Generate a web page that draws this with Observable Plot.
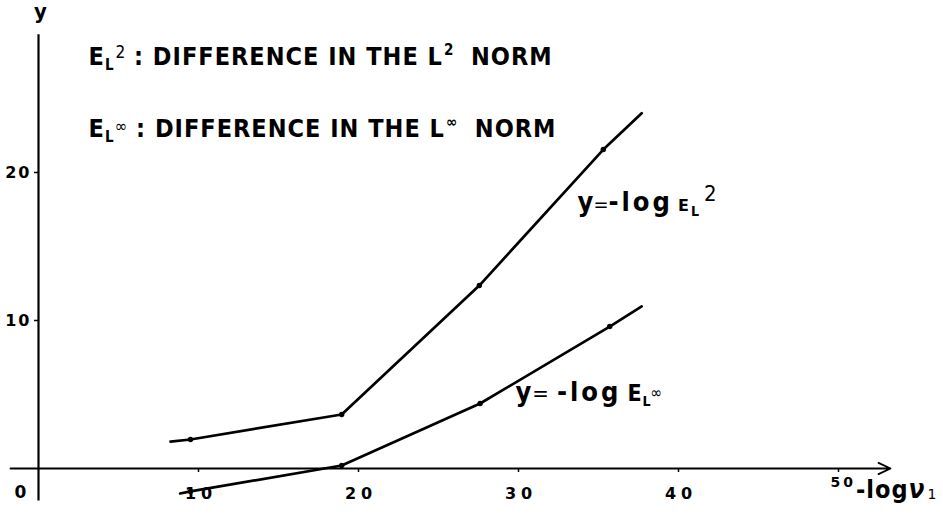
<!DOCTYPE html>
<html><head><meta charset="utf-8">
<script src="https://cdn.jsdelivr.net/npm/d3@7"></script>
<script src="https://cdn.jsdelivr.net/npm/@observablehq/plot@0.6"></script>
<style>
html,body{margin:0;padding:0;background:#fff;}
#chart svg{display:block;}
</style>
</head><body><div id="chart"></div>
<script>
// ---- data ----
const l2PointX = [9.5, 18.95, 27.55, 35.3];
const l2PointY = [1.96, 3.65, 12.36, 21.55];
const l2LineX  = [8.25, 9.5, 18.95, 27.55, 35.3, 37.7];
const l2LineY  = [1.82, 1.96, 3.65, 12.36, 21.55, 24.0];

const linfPointX = [9.5, 18.95, 27.6, 35.7];
const linfPointY = [-1.55, 0.2, 4.39, 9.59];
const linfLineX  = [8.85, 9.5, 18.95, 27.6, 35.7, 37.7];
const linfLineY  = [-1.69, -1.55, 0.2, 4.39, 9.59, 10.95];

const xTicks = [10, 20, 30, 40, 50];
const yTicks = [10, 20];
const xAxisExtent = [-1.75, 53.25];
const yAxisExtent = [-2.2, 29.3];

const zip = (xs, ys) => xs.map((x, i) => ({x, y: ys[i]}));
const FONT = "'DejaVu Sans Condensed','Liberation Sans Narrow','DejaVu Sans',sans-serif";
const WIDE = "'DejaVu Sans',sans-serif";

const plot = Plot.plot({
  width: 943, height: 514,
  marginLeft: 38, marginRight: 105, marginTop: 0, marginBottom: 46,
  x: {domain: [0, 50]},
  y: {domain: [0, 31.62]},
  style: {background: "white", color: "black", fontFamily: FONT},
  marks: [
    Plot.arrow([{x1: xAxisExtent[0], x2: xAxisExtent[1], y: 0}],
      {x1: "x1", x2: "x2", y1: "y", y2: "y", stroke: "black", strokeWidth: 1.8, headLength: 11, headAngle: 50}),
    Plot.ruleX([{x: 0, y1: yAxisExtent[0], y2: yAxisExtent[1]}],
      {x: "x", y1: "y1", y2: "y2", stroke: "black", strokeWidth: 2.2}),
    Plot.axisX(xTicks, {tickSize: 4, tickPadding: 15, label: null, fontWeight: "bold",
      fontFamily: WIDE, tickFormat: d => d === 50 ? "" : String(d), stroke: "black", strokeWidth: 1.5}),
    Plot.axisY(yTicks, {tickSize: 4, tickPadding: 3, label: null, fontWeight: "bold",
      fontFamily: WIDE, stroke: "black", strokeWidth: 1.5}),
    Plot.line(zip(l2LineX, l2LineY), {x: "x", y: "y", stroke: "black", strokeWidth: 2.7}),
    Plot.line(zip(linfLineX, linfLineY), {x: "x", y: "y", stroke: "black", strokeWidth: 2.7}),
    Plot.dot(zip(l2PointX, l2PointY), {x: "x", y: "y", r: 2.7, fill: "black"}),
    Plot.dot(zip(linfPointX, linfPointY), {x: "x", y: "y", r: 2.7, fill: "black"}),
    Plot.text(["note1"], {frameAnchor: "top-left", dx: 50, dy: 64, textAnchor: "start", lineAnchor: "bottom"}),
    Plot.text(["note2"], {frameAnchor: "top-left", dx: 50, dy: 136, textAnchor: "start", lineAnchor: "bottom"}),
    Plot.text(["lab1"], {x: 33.69, y: 17.4, textAnchor: "start", lineAnchor: "bottom"}),
    Plot.text(["lab2"], {x: 29.81, y: 4.55, textAnchor: "start", lineAnchor: "bottom"}),
    Plot.text(["y"], {x: 0, y: yAxisExtent[1], dx: 2, dy: -16, lineAnchor: "bottom"}),
    Plot.text(["0"], {x: 0, y: 0, dx: -18, dy: 29, lineAnchor: "bottom"}),
    Plot.text(["xlab"], {x: 50, y: 0, dx: -8, dy: 29, textAnchor: "start", lineAnchor: "bottom"})
  ]
});
document.getElementById("chart").appendChild(plot);

// spaced-out, larger axis digits, as in the reference
const sel = d3.select(plot);
sel.selectAll("g[aria-label='x-axis tick label'] text")
  .style("font-size", "16px").style("font-weight", "bold").style("font-family", WIDE)
  .attr("letter-spacing", "5px").attr("dx", "2.5px");
sel.selectAll("g[aria-label='y-axis tick label'] text")
  .style("font-size", "16px").style("font-weight", "bold").style("font-family", WIDE)
  .attr("letter-spacing", "2px");

// rich text: segments [text, {size, weight, shift(px up), dx, family, spacing}]
function rich(label, segs) {
  const node = Array.from(plot.querySelectorAll("text")).find(e => e.textContent === label);
  if (!node) return;
  const t = d3.select(node);
  t.text(null);
  let cur = 0;
  for (const [txt, o = {}] of segs) {
    const shift = o.shift || 0;
    const ts = t.append("tspan").text(txt)
      .attr("dy", (cur - shift) + "px")
      .style("font-size", (o.size || 25) + "px")
      .style("font-weight", o.weight || "bold");
    if (o.dx) ts.attr("dx", o.dx + "px");
    if (o.family) ts.style("font-family", o.family);
    if (o.spacing != null) ts.attr("letter-spacing", o.spacing + "px");
    if (o.style) ts.style("font-style", o.style);
    cur = shift;
  }
  t.style("white-space", "pre");
}
const NS = 1;
rich("note1", [
  ["E", {size: 25}], ["L", {size: 15, shift: -5, dx: 1}], ["2", {size: 17, weight: "normal", shift: 7, dx: 2}],
  [" : DIFFERENCE IN THE L", {size: 25, spacing: NS}], ["2", {size: 15, shift: 10, dx: 1}], ["  NORM", {size: 25, spacing: NS}]
]);
rich("note2", [
  ["E", {size: 25}], ["L", {size: 15, shift: -5, dx: 1}], ["∞", {size: 17, weight: "normal", shift: 5, dx: 1}],
  [" : DIFFERENCE IN THE L", {size: 25, spacing: NS}], ["∞", {size: 15, shift: 10, dx: 1}], ["  NORM", {size: 25, spacing: NS}]
]);
rich("lab1", [
  ["y", {size: 27}], ["=", {size: 20, weight: "normal"}], ["-log", {size: 27, spacing: 3}],
  ["E", {size: 16, family: WIDE, dx: 5, spacing: 2}], ["L", {size: 14, shift: -5}], ["2", {size: 22, weight: "normal", shift: 10, dx: 5}]
]);
rich("lab2", [
  ["y", {size: 27}], ["=", {size: 22, weight: "normal", dx: 1}], ["-log", {size: 27, spacing: 3, dx: 8}],
  ["E", {size: 23, dx: 6}], ["L", {size: 14, shift: -5, dx: 1}], ["∞", {size: 16, weight: "normal", shift: 3}]
]);
rich("y", [["y", {size: 22}]]);
rich("0", [["0", {size: 17, family: WIDE}]]);
rich("xlab", [
  ["50", {size: 14, family: WIDE, shift: 11, spacing: 3}], ["-log", {size: 25, spacing: 1}],
  ["ν", {size: 26, style: "italic"}], ["1", {size: 14, weight: "normal", family: WIDE, shift: -1, dx: 3}]
]);
</script>
</body></html>
